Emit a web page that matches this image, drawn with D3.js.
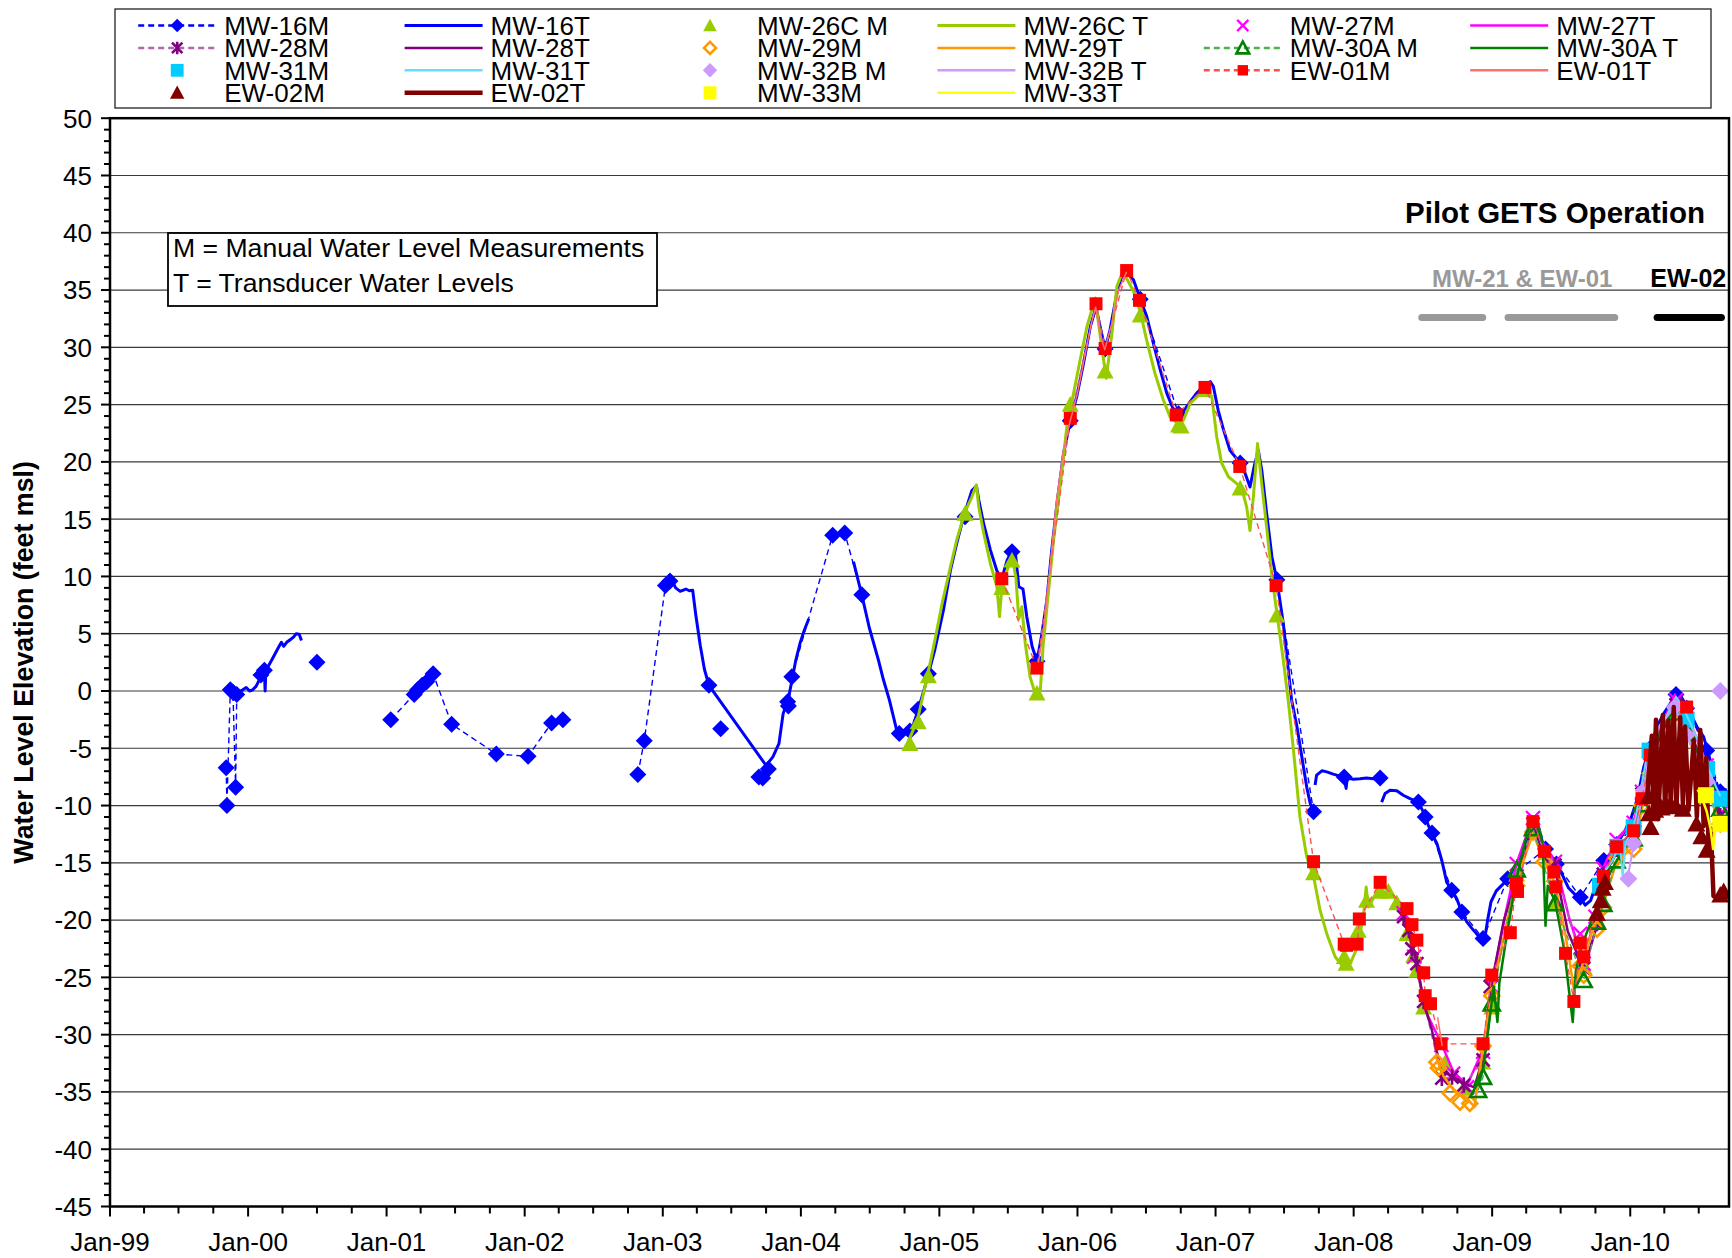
<!DOCTYPE html>
<html>
<head>
<meta charset="utf-8">
<script src="https://cdn.jsdelivr.net/npm/d3@7"></script>
<style>
  body { margin: 0; background: #fff; }
  svg text { font-family: "Liberation Sans", Arial, Helvetica, sans-serif; }
</style>
</head>
<body>
<svg id="chart" width="1732" height="1258"></svg>
<script>
// ---------------------------------------------------------------
// Water level elevations (feet msl). Each series is a list of
// [date, elevation]; a null entry breaks the connecting line.
// ---------------------------------------------------------------
const seriesNames = ["MW-16M","MW-16T","MW-26C M","MW-26C T","MW-27M","MW-27T",
  "MW-28M","MW-28T","MW-29M","MW-29T","MW-30A M","MW-30A T",
  "MW-31M","MW-31T","MW-32B M","MW-32B T","EW-01M","EW-01T",
  "EW-02M","EW-02T","MW-33M","MW-33T"];

const xTickLabels = ["Jan-99","Jan-00","Jan-01","Jan-02","Jan-03","Jan-04","Jan-05","Jan-06","Jan-07","Jan-08","Jan-09","Jan-10"];
const yTickValues = [50,45,40,35,30,25,20,15,10,5,0,-5,-10,-15,-20,-25,-30,-35,-40,-45];

const mw16M = [
  ["1999-11-04",-6.7],["1999-11-06",-10.0],["1999-11-15",0.1],["1999-11-22",-0.1],["1999-11-29",-8.4],["1999-12-02",-0.3],
  null,
  ["2000-02-04",1.4],["2000-02-13",1.8],
  null,
  ["2000-07-01",2.5],
  null,
  ["2001-01-12",-2.5],["2001-03-15",-0.3],["2001-03-24",0.1],["2001-04-05",0.5],["2001-04-17",0.8],["2001-05-04",1.5],
  ["2001-06-22",-2.9],["2001-10-18",-5.5],["2002-01-10",-5.7],["2002-03-13",-2.8],["2002-04-12",-2.5],
  null,
  ["2002-10-27",-7.3],["2002-11-13",-4.35],["2003-01-08",9.2],["2003-01-20",9.6],
  null,
  ["2003-05-03",0.5],
  null,
  ["2003-06-03",-3.3],
  null,
  ["2003-09-12",-7.5],["2003-09-22",-7.6],["2003-10-07",-6.8],
  null,
  ["2003-11-27",-0.95],["2003-11-29",-1.3],["2003-12-08",1.25],["2004-03-25",13.6],["2004-04-26",13.8],["2004-06-10",8.4],
  null,
  ["2004-09-17",-3.7],["2004-10-15",-3.5],["2004-11-06",-1.6],["2004-12-03",1.5],
  null,
  ["2005-03-10",15.2],
  null,
  ["2005-07-12",12.15],
  null,
  ["2005-09-16",2.6],
  null,
  ["2005-12-13",23.6],
  null,
  ["2006-03-15",29.85],
  null,
  ["2006-06-16",34.2],["2006-09-25",24.2],
  null,
  ["2007-03-07",19.9],
  null,
  ["2007-06-12",9.7],["2007-09-17",-10.55],
  null,
  ["2007-12-07",-7.5],
  null,
  ["2008-03-11",-7.6],
  null,
  ["2008-06-20",-9.7],["2008-07-08",-11.0],["2008-07-26",-12.4],["2008-09-16",-17.4],["2008-10-13",-19.3],["2008-12-08",-21.6],
  ["2009-02-11",-16.4],["2009-05-22",-13.8],["2009-06-20",-15.1],["2009-08-22",-18.0],["2009-10-23",-14.8],["2009-11-26",-13.4],
  ["2010-01-10",-11.8],["2010-02-23",-5.0],["2010-05-02",-0.3],["2010-05-30",-1.5],["2010-07-22",-5.2],["2010-08-27",-8.8]
];

const mw16T = [
  ["1999-12-06",-0.1],["1999-12-18",0.1],["1999-12-27",0.3],["2000-01-05",0.0],["2000-01-13",0.1],["2000-01-22",0.4],
  ["2000-01-28",0.8],["2000-02-06",1.3],["2000-02-13",1.7],["2000-02-15",0.0],["2000-02-17",1.9],["2000-02-24",2.2],
  ["2000-03-05",2.8],["2000-03-13",3.3],["2000-03-23",3.9],["2000-03-29",4.25],["2000-04-04",3.9],["2000-04-12",4.25],
  ["2000-04-22",4.5],["2000-04-30",4.7],["2000-05-07",5.0],["2000-05-15",4.95],["2000-05-21",4.4],
  null,
  ["2003-01-14",9.5],["2003-01-22",9.9],["2003-02-04",9.0],["2003-02-16",8.7],["2003-03-03",8.9],["2003-03-12",8.75],
  ["2003-03-21",8.8],["2003-03-29",6.7],["2003-04-10",4.0],["2003-04-21",1.9],["2003-05-03",0.5],["2003-10-01",-6.5],
  ["2003-10-19",-5.75],["2003-11-04",-4.6],["2003-11-15",-2.0],["2003-11-30",-0.5],["2003-12-18",2.6],["2003-12-30",4.2],
  ["2004-01-10",5.3],["2004-01-22",6.3],
  null,
  ["2004-05-19",11.3],["2004-06-10",8.4],["2004-06-30",5.5],["2004-07-24",2.7],["2004-08-06",1.0],["2004-08-22",-0.8],
  ["2004-09-10",-3.4],["2004-09-19",-3.8],["2004-10-02",-3.6],["2004-10-15",-3.5],["2004-10-26",-2.8],["2004-11-06",-1.6],
  ["2004-11-19",-0.2],["2004-12-03",1.5],["2004-12-20",3.6],["2005-01-12",7.1],["2005-01-30",10.5],["2005-02-16",12.9],
  ["2005-03-06",15.2],["2005-03-28",17.5],["2005-04-09",17.9],["2005-04-15",16.7],["2005-04-28",14.6],["2005-05-16",12.3],
  ["2005-06-02",10.5],["2005-06-15",9.8],["2005-06-29",11.4],["2005-07-12",12.3],["2005-07-21",12.0],["2005-07-30",9.1],
  ["2005-08-10",8.9],["2005-08-20",6.5],["2005-09-03",3.9],["2005-09-16",2.6],["2005-09-29",5.0],["2005-10-12",7.9],
  ["2005-10-25",12.3],["2005-11-08",16.4],["2005-11-25",20.7],["2005-12-13",23.6],["2005-12-30",25.7],["2006-01-17",28.6],
  ["2006-02-04",31.8],["2006-02-19",33.5],["2006-03-02",31.8],["2006-03-15",29.85],["2006-03-28",31.5],["2006-04-15",34.7],
  ["2006-04-28",36.2],["2006-05-11",36.5],["2006-05-29",35.9],["2006-06-16",34.2],["2006-07-03",32.7],["2006-07-21",30.3],
  ["2006-08-08",28.0],["2006-08-25",26.0],["2006-09-10",24.7],["2006-09-25",24.2],["2006-10-08",24.4],["2006-10-26",25.25],
  ["2006-11-12",26.0],["2006-11-30",26.6],["2006-12-18",27.0],["2006-12-26",26.6],["2007-01-08",24.5],["2007-01-22",22.8],
  ["2007-02-08",21.0],["2007-03-07",19.9],["2007-03-20",19.0],["2007-04-02",17.8],["2007-04-13",19.6],["2007-04-24",21.0],
  ["2007-05-03",19.3],["2007-05-16",15.5],["2007-05-30",11.7],["2007-06-12",9.7],["2007-06-29",5.9],["2007-07-21",-0.8],
  ["2007-08-04",-3.1],["2007-08-17",-5.75],["2007-08-30",-8.4],["2007-09-08",-9.8],["2007-09-17",-10.5],
  null,
  ["2007-09-21",-8.2],["2007-09-25",-7.35],["2007-10-09",-6.97],["2007-10-22",-7.06],["2007-11-08",-7.26],["2007-11-26",-7.43],
  ["2007-12-07",-7.55],["2007-12-12",-8.5],["2007-12-15",-7.6],["2007-12-31",-7.7],["2008-01-18",-7.67],["2008-02-04",-7.6],
  ["2008-02-22",-7.67],["2008-03-11",-7.64],
  null,
  ["2008-03-15",-9.7],["2008-03-24",-8.95],["2008-04-06",-8.66],["2008-04-24",-8.7],["2008-05-11",-9.1],["2008-05-29",-9.4],
  ["2008-06-20",-9.7],["2008-07-03",-10.55],["2008-07-16",-11.7],["2008-07-28",-12.6],["2008-08-08",-13.3],["2008-08-21",-14.8],
  ["2008-09-03",-16.7],["2008-09-16",-17.4],["2008-09-29",-18.1],["2008-10-13",-19.3],["2008-10-26",-20.15],["2008-11-08",-20.7],
  ["2008-11-21",-21.2],["2008-12-07",-21.75],["2008-12-14",-21.3],["2008-12-20",-20.0],["2008-12-29",-18.4],["2009-01-12",-17.45],
  ["2009-01-27",-16.95],["2009-02-11",-16.4],["2009-02-27",-15.6],["2009-03-16",-14.5],["2009-04-03",-13.0],["2009-04-21",-11.7],
  ["2009-05-04",-11.9],["2009-05-17",-13.6],["2009-05-30",-14.5],["2009-06-17",-15.2],["2009-07-05",-16.0],["2009-07-22",-17.2],
  ["2009-08-09",-17.8],["2009-08-22",-18.0],["2009-09-04",-18.7],["2009-09-18",-18.3],["2009-10-05",-16.7],["2009-10-23",-15.1],
  ["2009-11-09",-14.2],["2009-11-27",-13.3],["2009-12-15",-12.4],["2010-01-01",-11.3],["2010-01-19",-9.5],["2010-02-06",-6.6],
  ["2010-02-23",-4.9],["2010-03-13",-3.1],["2010-03-30",-2.0],["2010-04-17",-1.1],["2010-04-26",-0.5],["2010-05-09",-0.1],
  ["2010-05-31",-1.4],["2010-06-26",-3.1],["2010-07-14",-4.0],["2010-07-31",-6.0],["2010-08-14",-8.1],["2010-08-27",-8.7],
  ["2010-09-13",-8.6]
];

const mw26cM = [
  ["2004-10-15",-4.6],["2004-11-06",-2.7],["2004-12-03",1.3],["2005-03-10",15.5],["2005-06-15",9.0],["2005-07-12",11.4],
  ["2005-09-16",-0.2],["2005-12-13",25.0],["2006-03-15",27.9],["2006-06-16",32.8],["2006-09-25",23.2],["2006-10-02",23.1],
  ["2006-12-04",26.3],["2007-03-07",17.7],["2007-06-12",6.6],["2007-09-17",-15.9],["2007-12-07",-23.2],["2007-12-12",-23.8],
  ["2008-01-13",-20.9],["2008-02-04",-18.3],["2008-03-11",-17.5],["2008-04-02",-17.5],["2008-04-24",-18.5],["2008-05-21",-21.2],
  ["2008-06-08",-23.1],["2008-06-16",-24.4],["2008-07-04",-27.6],["2008-08-29",-32.5],["2008-10-18",-34.7],["2008-12-08",-32.4],
  ["2008-12-31",-27.6],["2009-03-07",-16.0],["2009-04-21",-12.2],["2009-06-17",-18.6],["2009-08-31",-24.1],["2009-10-05",-20.0]
];

const mw26cT = [
  ["2004-10-11",-4.4],["2004-10-24",-3.4],["2004-11-06",-2.25],["2004-11-28",0.95],["2004-12-20",4.4],["2005-01-08",7.6],
  ["2005-01-30",10.8],["2005-02-16",13.2],["2005-03-10",15.65],["2005-03-28",16.95],["2005-04-09",18.0],["2005-04-15",16.1],
  ["2005-04-28",13.8],["2005-05-16",11.1],["2005-06-02",9.1],["2005-06-09",6.5],["2005-06-15",9.0],["2005-06-29",10.55],
  ["2005-07-12",11.6],["2005-07-22",10.0],["2005-07-30",6.3],["2005-08-07",7.35],["2005-08-16",4.15],["2005-08-29",1.2],
  ["2005-09-14",-0.5],["2005-09-25",0.1],["2005-10-02",3.86],["2005-10-14",7.9],["2005-10-30",13.2],["2005-11-17",18.1],
  ["2005-12-04",23.1],["2005-12-20",25.7],["2006-01-08",28.9],["2006-01-26",31.8],["2006-02-17",34.3],["2006-02-28",31.5],
  ["2006-03-11",28.9],["2006-03-18",27.3],["2006-04-02",31.2],["2006-04-15",35.3],["2006-04-28",36.4],["2006-05-11",36.0],
  ["2006-05-29",34.9],["2006-06-16",33.1],["2006-07-03",30.6],["2006-07-25",27.7],["2006-08-16",25.4],["2006-09-03",23.9],
  ["2006-09-21",23.4],["2006-10-08",23.65],["2006-10-26",25.1],["2006-11-17",25.8],["2006-12-04",26.0],["2006-12-22",25.7],
  ["2007-01-04",22.2],["2007-01-17",19.9],["2007-02-04",18.7],["2007-02-26",18.1],["2007-03-11",17.7],["2007-03-24",16.1],
  ["2007-04-02",14.0],["2007-04-11",16.95],["2007-04-22",21.6],["2007-05-03",18.1],["2007-05-16",14.3],["2007-05-30",10.0],
  ["2007-06-12",6.8],["2007-06-29",2.7],["2007-07-12",-0.8],["2007-07-26",-5.2],["2007-08-12",-11.0],["2007-08-30",-14.5],
  ["2007-09-17",-16.2],["2007-10-04",-19.1],["2007-10-22",-21.2],["2007-11-13",-23.2],["2007-11-30",-23.9],["2007-12-23",-23.8],
  ["2008-01-09",-22.5],["2008-01-27",-19.7],["2008-02-03",-17.1],["2008-02-09",-18.85],["2008-03-03",-17.5],["2008-03-29",-17.1],
  ["2008-04-24",-18.3],["2008-05-11",-19.7],["2008-05-29",-21.8],["2008-06-16",-24.1],["2008-07-04",-27.0]
];

const mw27M = [
  ["2008-05-12",-19.4],["2008-06-09",-23.2],["2008-08-20",-30.9],["2008-09-20",-33.4],["2008-10-27",-34.6],["2008-12-08",-31.5],
  ["2008-12-31",-25.8],["2009-03-07",-15.1],["2009-04-19",-11.1],["2009-06-16",-14.9],["2009-08-22",-21.2],["2009-08-31",-23.8],
  ["2009-10-01",-19.7],["2009-10-22",-15.5],["2009-11-26",-13.0],["2010-01-10",-11.5],["2010-02-01",-8.8],["2010-02-23",-5.4],
  ["2010-05-02",-0.8],["2010-05-30",-2.0],["2010-07-22",-6.5],["2010-08-27",-10.7]
];

const mw27T = [
  ["2008-05-10",-19.2],["2008-06-09",-23.0],["2008-07-10",-28.0],["2008-08-20",-30.8],["2008-09-20",-33.2],["2008-10-27",-34.4],
  ["2008-12-08",-31.3],["2008-12-31",-25.6],["2009-02-05",-19.5],["2009-03-07",-15.0],["2009-04-19",-11.0],["2009-05-10",-13.0],
  ["2009-06-16",-14.8],["2009-07-25",-20.0],["2009-08-31",-23.6],["2009-10-01",-19.6],["2009-10-22",-15.4],["2009-11-26",-12.9],
  ["2010-01-10",-11.4],["2010-02-01",-8.7],["2010-02-23",-5.3],["2010-04-29",-0.3],["2010-05-02",-0.7],["2010-05-30",-1.9],
  ["2010-07-22",-6.4],["2010-08-27",-10.6]
];

const mw28M = [
  ["2008-05-12",-19.7],["2008-05-26",-20.9],["2008-06-03",-22.5],["2008-06-16",-23.8],["2008-07-04",-27.1],["2008-08-21",-33.8],
  ["2008-09-17",-33.7],["2008-10-18",-34.4],["2008-12-08",-32.2],["2008-12-27",-25.8],["2009-03-07",-16.7],["2009-04-19",-11.6],
  ["2009-06-16",-15.2],["2009-08-22",-23.4],["2009-08-31",-24.2],["2009-10-05",-20.3],["2009-10-22",-16.0],["2009-11-26",-13.8],
  ["2010-01-10",-12.0],["2010-02-01",-9.0],["2010-02-23",-5.9],["2010-05-02",-1.2],["2010-05-30",-2.8],["2010-07-22",-7.0],
  ["2010-08-27",-10.9]
];

const mw28T = [
  ["2008-05-05",-18.9],["2008-05-25",-20.9],["2008-06-15",-23.6],["2008-07-05",-27.3],["2008-07-25",-29.5],["2008-08-20",-33.2],
  ["2008-09-15",-33.6],["2008-10-15",-34.2],["2008-11-15",-34.6],["2008-12-08",-32.0],["2008-12-28",-26.0],["2009-02-01",-20.0],
  ["2009-03-07",-16.5],["2009-04-19",-11.7],["2009-05-19",-14.6],["2009-06-16",-15.4],["2009-07-20",-21.0],["2009-08-31",-24.3],
  ["2009-10-05",-20.5],["2009-10-22",-16.3],["2009-11-26",-13.9],["2010-01-10",-12.1],["2010-02-01",-9.1],["2010-02-23",-6.0],
  ["2010-04-29",-1.1],["2010-05-30",-2.9],["2010-07-22",-7.1],["2010-08-27",-11.0]
];

const mw29M = [
  ["2008-08-08",-32.4],["2008-08-12",-32.9],["2008-09-12",-35.1],["2008-10-08",-35.9],["2008-11-03",-36.0],["2008-12-08",-31.0],
  ["2008-12-31",-26.6],["2009-03-07",-17.0],["2009-04-19",-12.3],["2009-05-19",-14.9],["2009-06-16",-16.6],["2009-08-22",-24.0],
  ["2009-08-31",-24.8],["2009-10-05",-20.8],["2009-10-22",-18.9],["2009-11-26",-14.6],["2010-01-10",-13.8],["2010-02-01",-10.0],
  ["2010-02-23",-7.2],["2010-05-02",-1.5],["2010-05-30",-3.6],["2010-07-22",-8.0],["2010-08-27",-11.6]
];

const mw29T = [
  ["2008-08-05",-31.9],["2008-08-25",-33.6],["2008-09-25",-35.0],["2008-10-25",-35.5],["2008-11-15",-36.3],["2008-11-30",-33.0],
  ["2008-12-20",-28.5],["2009-01-10",-25.0],["2009-02-10",-20.0],["2009-03-07",-16.5],["2009-04-19",-12.4],["2009-05-10",-14.2],
  ["2009-06-16",-16.8],["2009-07-15",-21.5],["2009-08-05",-26.0],["2009-08-25",-24.2],["2009-09-20",-21.2],["2009-10-22",-18.6],
  ["2009-11-26",-14.9],["2010-01-10",-13.6],["2010-02-01",-10.3],["2010-02-23",-7.4],["2010-04-29",-1.8],["2010-05-30",-3.8],
  ["2010-07-22",-8.2],["2010-08-27",-11.9]
];

const mw30aM = [
  ["2008-11-25",-34.85],["2008-12-08",-33.7],["2008-12-31",-27.3],["2009-03-07",-15.6],["2009-04-19",-12.0],["2009-06-16",-18.55],
  ["2009-08-31",-25.25],["2009-10-05",-20.15],["2009-10-22",-18.6],["2009-11-26",-14.8],["2010-01-10",-12.9],["2010-02-01",-9.9],
  ["2010-02-23",-6.9],["2010-05-02",-1.9],["2010-05-30",-3.5],["2010-07-22",-7.9],["2010-08-27",-10.3]
];

const mw30aT = [
  ["2008-11-25",-34.5],["2008-12-08",-33.0],["2008-12-20",-30.0],["2009-01-05",-25.8],["2009-01-15",-28.9],["2009-01-20",-25.5],
  ["2009-02-10",-21.0],["2009-03-07",-16.3],["2009-03-30",-13.0],["2009-04-19",-11.9],["2009-05-01",-11.5],["2009-05-15",-13.5],
  ["2009-05-22",-20.5],["2009-05-28",-17.0],["2009-06-16",-18.3],["2009-07-10",-22.5],["2009-08-02",-28.9],["2009-08-10",-24.5],
  ["2009-08-25",-22.3],["2009-09-15",-20.5],["2009-10-05",-19.3],["2009-10-22",-17.0],["2009-11-26",-14.8],["2010-01-10",-12.6],
  ["2010-02-01",-9.7],["2010-02-23",-6.6],["2010-03-20",-3.5],["2010-04-29",-1.5],["2010-05-30",-3.3],["2010-07-01",-5.6],
  ["2010-07-22",-7.6],["2010-08-27",-10.1]
];

const mw31M = [
  ["2009-10-13",-17.0],["2009-11-28",-13.6],["2010-01-10",-11.9],["2010-02-21",-5.2],["2010-05-30",-2.5],["2010-07-23",-6.8],
  ["2010-08-27",-9.4]
];

const mw31T = [
  ["2009-10-10",-17.3],["2009-10-25",-15.8],["2009-11-15",-14.8],["2009-12-05",-13.4],["2009-12-12",-16.3],["2009-12-20",-13.2],
  ["2010-01-10",-12.0],["2010-01-25",-9.3],["2010-02-15",-5.5],["2010-03-10",-3.5],["2010-04-05",-2.3],["2010-05-02",-0.5],
  ["2010-05-20",-1.4],["2010-06-10",-2.9],["2010-07-01",-4.5],["2010-07-22",-6.5],["2010-08-27",-9.2]
];

const mw32bM = [
  ["2009-12-27",-16.4],["2010-01-10",-13.3],["2010-02-05",-8.7],["2010-04-29",-1.4],["2010-05-30",-3.85],["2010-07-22",-7.9],
  ["2010-08-27",0.0]
];

const mw32bT = [
  ["2009-12-27",-16.0],["2010-01-20",-11.5],["2010-02-15",-6.5],["2010-03-20",-3.0],["2010-04-29",-1.4],["2010-05-30",-3.9],
  ["2010-07-01",-6.0],["2010-07-22",-8.0]
];

const ew01M = [
  ["2005-06-15",9.8],["2005-09-16",2.0],["2005-12-13",23.8],["2006-02-19",33.8],["2006-03-15",29.9],["2006-05-11",36.7],
  ["2006-06-14",34.1],["2006-09-19",24.1],["2006-12-04",26.5],["2007-03-06",19.6],["2007-06-10",9.2],["2007-09-17",-14.9],
  ["2007-12-07",-22.1],["2007-12-13",-22.2],["2008-01-10",-22.1],["2008-01-16",-19.9],["2008-03-11",-16.7],["2008-05-21",-19.0],
  ["2008-06-03",-20.4],["2008-06-16",-21.75],["2008-07-04",-24.6],["2008-07-08",-26.6],["2008-07-22",-27.3],["2008-08-19",-30.8],
  ["2008-12-08",-30.8],["2008-12-31",-24.8],["2009-02-18",-21.1],["2009-03-06",-16.8],["2009-03-09",-17.5],["2009-04-19",-11.4],
  ["2009-05-19",-14.0],["2009-06-13",-15.8],["2009-06-18",-17.1],["2009-07-14",-22.9],["2009-08-05",-27.1],["2009-08-22",-22.0],
  ["2009-08-31",-23.2],["2009-10-22",-16.2],["2009-11-26",-13.6],["2010-01-10",-12.2],["2010-02-01",-9.4],["2010-02-23",-5.6],
  ["2010-05-30",-1.4]
];

const ew01T = [
  ["2005-09-20",2.5],["2005-10-05",5.8],["2005-10-20",10.5],["2005-11-06",16.5],["2005-11-25",21.0],["2005-12-13",23.6],
  ["2006-01-01",26.0],["2006-01-19",29.0],["2006-02-06",32.0],["2006-02-18",33.5],["2006-03-03",31.0],["2006-03-14",29.8],
  ["2006-04-01",32.0],["2006-04-20",35.0],["2006-05-11",36.6],
  null,
  ["2008-08-10",-28.5],["2008-08-22",-31.0]
];

const ew02M = [
  ["2009-10-05",-19.4],["2009-10-15",-18.3],["2009-10-20",-17.2],["2009-10-26",-16.7],["2010-02-18",-9.2],["2010-02-20",-10.7],
  ["2010-02-24",-11.9],["2010-03-08",-10.4],["2010-03-25",-10.2],["2010-04-10",-10.1],["2010-05-01",-10.0],["2010-05-20",-10.3],
  ["2010-06-25",-11.6],["2010-07-08",-12.7],["2010-07-22",-13.9],["2010-08-27",-17.8],["2010-09-05",-17.5]
];

const ew02T = [
  ["2010-02-14",-9.5],["2010-02-27",-3.9],["2010-03-03",-11.0],["2010-03-10",-2.5],["2010-03-16",-11.2],["2010-03-28",-2.1],
  ["2010-04-03",-10.5],["2010-04-12",-2.6],["2010-04-18",-10.0],["2010-04-26",-1.4],["2010-05-03",-10.2],["2010-05-13",-2.3],
  ["2010-05-20",-9.8],["2010-05-26",-3.1],["2010-06-04",-10.4],["2010-06-18",-4.3],["2010-06-26",-11.0],["2010-07-05",-3.4],
  ["2010-07-14",-11.8],["2010-07-21",-5.8],["2010-07-27",-13.5],["2010-08-02",-12.0],["2010-08-09",-17.9],["2010-08-18",-18.0],
  ["2010-08-30",-18.0]
];

const mw33M = [["2010-07-20",-9.1],["2010-08-27",-11.6]];

const mw33T = [
  ["2010-06-28",-8.6],["2010-07-10",-9.4],["2010-07-22",-10.5],["2010-08-01",-12.0],["2010-08-08",-13.8],["2010-08-15",-11.8],
  ["2010-08-27",-11.6]
];

// Pilot GETS operating periods (start, end, group)
const getsPeriods = [
  ["2008-06-29","2008-12-07","MW-21 & EW-01"],
  ["2009-02-12","2009-11-21","MW-21 & EW-01"],
  ["2010-03-13","2010-08-30","EW-02"]
];
const getsLevel = 32.6;

// ---------------------------------------------------------------
// Drawing
// ---------------------------------------------------------------
const parse = d3.timeParse("%Y-%m-%d");
const svg = d3.select("#chart");
const plot = { left: 110, right: 1729, top: 118.2, bottom: 1206.5 };

const x = d3.scaleTime()
  .domain([parse("1999-01-01"), parse("2010-09-19")])
  .range([plot.left, plot.right]);
const y = d3.scaleLinear().domain([-45, 50]).range([plot.bottom, plot.top]);

const toRows = arr => arr.map(d => d === null ? null : { date: parse(d[0]), v: d[1] });

const seriesData = {
  "MW-16M": mw16M, "MW-16T": mw16T, "MW-26C M": mw26cM, "MW-26C T": mw26cT,
  "MW-27M": mw27M, "MW-27T": mw27T, "MW-28M": mw28M, "MW-28T": mw28T,
  "MW-29M": mw29M, "MW-29T": mw29T, "MW-30A M": mw30aM, "MW-30A T": mw30aT,
  "MW-31M": mw31M, "MW-31T": mw31T, "MW-32B M": mw32bM, "MW-32B T": mw32bT,
  "EW-01M": ew01M, "EW-01T": ew01T, "EW-02M": ew02M, "EW-02T": ew02T,
  "MW-33M": mw33M, "MW-33T": mw33T
};

const styles = {
  "MW-16M":   { line: { color: "#0000FF", w: 1.4, dash: "6,4" }, marker: { shape: "diamond", r: 8.5, fill: "#0000FF" } },
  "MW-16T":   { line: { color: "#0000FF", w: 3 } },
  "MW-26C M": { marker: { shape: "triangle", r: 8.5, fill: "#99CC00" } },
  "MW-26C T": { line: { color: "#99CC00", w: 3 } },
  "MW-27M":   { marker: { shape: "x", r: 7, stroke: "#FF00FF", sw: 2.2 } },
  "MW-27T":   { line: { color: "#FF00FF", w: 2.5 } },
  "MW-28M":   { line: { color: "#B266B2", w: 1.4, dash: "6,4" }, marker: { shape: "star", r: 6.5, stroke: "#800080", sw: 2.6 } },
  "MW-28T":   { line: { color: "#800080", w: 2.5 } },
  "MW-29M":   { marker: { shape: "diamond", r: 7.5, fill: "none", stroke: "#FF9900", sw: 2.6 } },
  "MW-29T":   { line: { color: "#FF9900", w: 2.5 } },
  "MW-30A M": { line: { color: "#4CAF50", w: 1.4, dash: "6,4" }, marker: { shape: "triangle", r: 8, fill: "none", stroke: "#008000", sw: 2.6 } },
  "MW-30A T": { line: { color: "#008000", w: 2.5 } },
  "MW-31M":   { marker: { shape: "square", r: 8, fill: "#00CCFF" } },
  "MW-31T":   { line: { color: "#66DDFF", w: 2 } },
  "MW-32B M": { marker: { shape: "diamond", r: 9, fill: "#CC99FF" } },
  "MW-32B T": { line: { color: "#CC99FF", w: 2 } },
  "EW-01M":   { line: { color: "#FF5050", w: 1.4, dash: "6,4" }, marker: { shape: "square", r: 6.5, fill: "#FF0000" } },
  "EW-01T":   { line: { color: "#FF7070", w: 1.5 } },
  "EW-02M":   { marker: { shape: "triangle", r: 9, fill: "#800000" } },
  "EW-02T":   { line: { color: "#800000", w: 4.5 } },
  "MW-33M":   { marker: { shape: "square", r: 8, fill: "#FFFF00" } },
  "MW-33T":   { line: { color: "#FFFF00", w: 2.5 } }
};

// legend symbols are drawn a little smaller than the plotted marks
const legendMarkerScale = 0.8;

function markerPath(shape, r) {
  switch (shape) {
    case "diamond":  return `M0,${-r}L${r},0L0,${r}L${-r},0Z`;
    case "square":   return `M${-r},${-r}H${r}V${r}H${-r}Z`;
    case "triangle": return `M0,${-r}L${r},${r * 0.85}L${-r},${r * 0.85}Z`;
    case "x":        return `M${-r},${-r}L${r},${r}M${r},${-r}L${-r},${r}`;
    case "star":     return `M${-r},${-r}L${r},${r}M${r},${-r}L${-r},${r}M0,${-r * 1.2}L0,${r * 1.2}`;
  }
  return "";
}

function drawMarker(g, m, cx, cy, scale = 1) {
  g.append("path")
    .attr("d", markerPath(m.shape, m.r * scale))
    .attr("transform", `translate(${cx},${cy})`)
    .attr("fill", m.fill || "none")
    .attr("stroke", m.stroke || "none")
    .attr("stroke-width", m.sw || 0)
    .attr("stroke-linejoin", "miter");
}

// clip region
svg.append("defs").append("clipPath").attr("id", "plotClip")
  .append("rect")
  .attr("x", plot.left).attr("y", plot.top)
  .attr("width", plot.right - plot.left).attr("height", plot.bottom - plot.top);

// horizontal gridlines
const grid = svg.append("g");
yTickValues.filter(v => v > -45 && v < 50).forEach(v => {
  grid.append("line")
    .attr("x1", plot.left).attr("x2", plot.right)
    .attr("y1", y(v)).attr("y2", y(v))
    .attr("stroke", "#3a3a3a").attr("stroke-width", 1.2);
});

// series
const dataLayer = svg.append("g").attr("clip-path", "url(#plotClip)");
const lineGen = d3.line().defined(d => d !== null).x(d => x(d.date)).y(d => y(d.v));

seriesNames.forEach(name => {
  const rows = toRows(seriesData[name]);
  const st = styles[name];
  const g = dataLayer.append("g");
  if (st.line) {
    g.append("path")
      .attr("d", lineGen(rows))
      .attr("fill", "none")
      .attr("stroke", st.line.color)
      .attr("stroke-width", st.line.w)
      .attr("stroke-dasharray", st.line.dash || null)
      .attr("stroke-linejoin", "round");
  }
  if (st.marker) {
    rows.filter(d => d !== null).forEach(d => drawMarker(g, st.marker, x(d.date), y(d.v)));
  }
});

// Pilot GETS operation bars
const gets = svg.append("g");
getsPeriods.forEach(p => {
  gets.append("line")
    .attr("x1", x(parse(p[0]))).attr("x2", x(parse(p[1])))
    .attr("y1", y(getsLevel)).attr("y2", y(getsLevel))
    .attr("stroke", p[2] === "EW-02" ? "#000000" : "#999999")
    .attr("stroke-width", 7).attr("stroke-linecap", "round");
});
const grayMid = (x(parse(getsPeriods[0][0])) + x(parse(getsPeriods[1][1]))) / 2;
const blackMid = (x(parse(getsPeriods[2][0])) + x(parse(getsPeriods[2][1]))) / 2;
gets.append("text").attr("x", grayMid + 4).attr("y", 287)
  .attr("text-anchor", "middle").attr("font-size", 24).attr("font-weight", "bold")
  .attr("fill", "#999999").text("MW-21 & EW-01");
gets.append("text").attr("x", blackMid - 1).attr("y", 287)
  .attr("text-anchor", "middle").attr("font-size", 25).attr("font-weight", "bold")
  .attr("fill", "#000").text("EW-02");
svg.append("text").attr("x", 1705).attr("y", 223)
  .attr("text-anchor", "end").attr("font-size", 29.5).attr("font-weight", "bold")
  .attr("fill", "#000").text("Pilot GETS Operation");

// plot frame
svg.append("rect")
  .attr("x", plot.left).attr("y", plot.top)
  .attr("width", plot.right - plot.left).attr("height", plot.bottom - plot.top)
  .attr("fill", "none").attr("stroke", "#000").attr("stroke-width", 2.5);

// y axis ticks and labels
const axes = svg.append("g");
d3.range(-45, 51, 1).forEach(v => {
  const major = v % 5 === 0;
  axes.append("line")
    .attr("x1", plot.left - (major ? 9 : 6)).attr("x2", plot.left)
    .attr("y1", y(v)).attr("y2", y(v))
    .attr("stroke", "#000").attr("stroke-width", 2);
});
yTickValues.forEach(v => {
  axes.append("text")
    .attr("x", 92).attr("y", y(v)).attr("dy", "0.36em")
    .attr("text-anchor", "end").attr("font-size", 26).attr("fill", "#000")
    .text(v);
});

// x axis ticks and labels
const quarterTicks = d3.timeMonth.every(3).range(parse("1999-01-01"), parse("2010-09-19"));
quarterTicks.forEach(t => {
  const major = t.getMonth() === 0;
  axes.append("line")
    .attr("x1", x(t)).attr("x2", x(t))
    .attr("y1", plot.bottom).attr("y2", plot.bottom + (major ? 10 : 7))
    .attr("stroke", "#000").attr("stroke-width", 2);
});
xTickLabels.forEach((lab, i) => {
  axes.append("text")
    .attr("x", x(new Date(1999 + i, 0, 1))).attr("y", 1251)
    .attr("text-anchor", "middle").attr("font-size", 26).attr("fill", "#000")
    .text(lab);
});

// y axis title
svg.append("text")
  .attr("transform", `translate(33,${(plot.top + plot.bottom) / 2}) rotate(-90)`)
  .attr("text-anchor", "middle").attr("font-size", 26.8).attr("font-weight", "bold")
  .text("Water Level Elevation (feet msl)");

// note box
const note = svg.append("g");
note.append("rect").attr("x", 168).attr("y", 233).attr("width", 489).attr("height", 73)
  .attr("fill", "#fff").attr("stroke", "#000").attr("stroke-width", 1.8);
note.append("text").attr("x", 173).attr("y", 257).attr("font-size", 26.6)
  .text("M = Manual Water Level Measurements");
note.append("text").attr("x", 173).attr("y", 292).attr("font-size", 26.6)
  .text("T = Transducer Water Levels");

// legend
const legend = svg.append("g");
legend.append("rect").attr("x", 115).attr("y", 9).attr("width", 1596).attr("height", 99)
  .attr("fill", "#fff").attr("stroke", "#222").attr("stroke-width", 1.3);
seriesNames.forEach((name, i) => {
  const col = i % 6, row = Math.floor(i / 6);
  const tx = 224.2 + col * 266.4;
  const cy = 25.5 + row * 22.4;
  const st = styles[name];
  if (st.line) {
    legend.append("line")
      .attr("x1", tx - 86).attr("x2", tx - 8)
      .attr("y1", cy).attr("y2", cy)
      .attr("stroke", st.line.color)
      .attr("stroke-width", Math.max(st.line.w, 2.5))
      .attr("stroke-dasharray", st.line.dash || null);
  }
  if (st.marker) drawMarker(legend, st.marker, tx - 47, cy, legendMarkerScale);
  legend.append("text").attr("x", tx).attr("y", cy + 9.3)
    .attr("font-size", 26).attr("fill", "#000").text(name);
});
</script>
</body>
</html>
